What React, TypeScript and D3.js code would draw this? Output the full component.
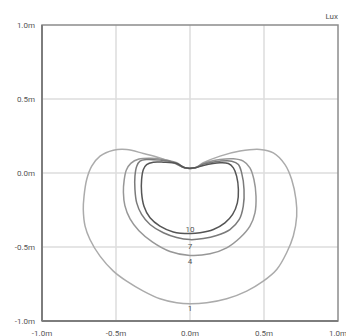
import React from "react";
import * as d3 from "d3";

type P = [number, number];

const xTicks = [-1, -0.5, 0, 0.5, 1];
const yTicks = [-1, -0.5, 0, 0.5, 1];
const tickLabel = (v: number) => `${v.toFixed(1)}m`;
const unitLabel = "Lux";

const levels = [1, 4, 7, 10];
const levelColors = ["#ababab", "#979797", "#7a7a7a", "#555555"];
const labelY = [-0.916, -0.598, -0.497, -0.382];

// contour 1 lux
const c1: P[] = [
  [-0.035, 0.035], [0.035, 0.035], [0.09, 0.069], [0.203, 0.114], [0.338, 0.148], [0.473, 0.159],
  [0.563, 0.136], [0.642, 0.057], [0.687, -0.044], [0.716, -0.179], [0.721, -0.292], [0.698, -0.426],
  [0.653, -0.539], [0.586, -0.652], [0.495, -0.731], [0.383, -0.798], [0.248, -0.85], [0.113, -0.877],
  [0, -0.884], [-0.09, -0.877], [-0.203, -0.85], [-0.315, -0.798], [-0.428, -0.731], [-0.518, -0.663],
  [-0.608, -0.562], [-0.676, -0.449], [-0.709, -0.359], [-0.721, -0.247], [-0.716, -0.157],
  [-0.698, -0.044], [-0.664, 0.046], [-0.608, 0.114], [-0.518, 0.154], [-0.428, 0.159],
  [-0.315, 0.132], [-0.203, 0.102], [-0.113, 0.069],
];
// contour 4 lux
const c4: P[] = [
  [-0.035, 0.035], [0.035, 0.035], [0.09, 0.064], [0.203, 0.091], [0.293, 0.096], [0.36, 0.08],
  [0.405, 0.035], [0.432, -0.044], [0.446, -0.157], [0.439, -0.269], [0.405, -0.359], [0.338, -0.438],
  [0.248, -0.506], [0.135, -0.546], [0, -0.557], [-0.135, -0.53], [-0.255, -0.465], [-0.345, -0.39],
  [-0.405, -0.31], [-0.44, -0.22], [-0.45, -0.13], [-0.445, -0.05], [-0.43, 0.02], [-0.4, 0.065],
  [-0.345, 0.094], [-0.27, 0.1], [-0.18, 0.091], [-0.09, 0.069],
];
// contour 7 lux
const c7: P[] = [
  [-0.035, 0.035], [0.035, 0.035], [0.09, 0.06], [0.203, 0.08], [0.282, 0.08], [0.327, 0.057],
  [0.349, 0.001], [0.365, -0.111], [0.36, -0.224], [0.333, -0.314], [0.27, -0.382], [0.18, -0.422],
  [0.09, -0.443], [0, -0.45], [-0.09, -0.436], [-0.18, -0.404], [-0.27, -0.348], [-0.327, -0.28],
  [-0.36, -0.202], [-0.372, -0.111], [-0.372, -0.021], [-0.36, 0.046], [-0.338, 0.08],
  [-0.293, 0.091], [-0.203, 0.087], [-0.113, 0.073],
];
// contour 10 lux
const c10: P[] = [
  [-0.035, 0.035], [0.035, 0.035], [0.09, 0.051], [0.203, 0.069], [0.259, 0.064], [0.293, 0.035],
  [0.315, -0.021], [0.327, -0.111], [0.32, -0.202], [0.288, -0.28], [0.236, -0.337], [0.158, -0.382],
  [0.068, -0.404], [0, -0.409], [-0.113, -0.398], [-0.203, -0.359], [-0.27, -0.303], [-0.311, -0.224],
  [-0.327, -0.134], [-0.327, -0.044], [-0.315, 0.024], [-0.293, 0.057], [-0.248, 0.073],
  [-0.18, 0.073], [-0.09, 0.064],
];
const contours = [c1, c4, c7, c10];

const W = 346;
const H = 336;
const plot = { left: 42, right: 338, top: 25, bottom: 321 };

export default function App() {
  const x = d3.scaleLinear().domain([-1, 1]).range([plot.left, plot.right]);
  const y = d3.scaleLinear().domain([-1, 1]).range([plot.bottom, plot.top]);
  const line = d3
    .line<P>()
    .x((d) => x(d[0]))
    .y((d) => y(d[1]))
    .curve(d3.curveCatmullRomClosed.alpha(0.5));
  const font = "Roboto, 'DejaVu Sans', sans-serif";
  return (
    <svg
      width={W}
      height={H}
      style={{ position: "absolute", left: 0, top: 0, background: "#fff" }}
      fontFamily={font}
    >
      {/* grid */}
      {xTicks.slice(1, -1).map((t) => (
        <line key={"gx" + t} x1={x(t)} x2={x(t)} y1={plot.top} y2={plot.bottom} stroke="#dcdcdc" strokeWidth={1.5} />
      ))}
      {yTicks.slice(1, -1).map((t) => (
        <line key={"gy" + t} y1={y(t)} y2={y(t)} x1={plot.left} x2={plot.right} stroke="#dcdcdc" strokeWidth={1.5} />
      ))}
      {/* frame */}
      <rect
        x={plot.left}
        y={plot.top}
        width={plot.right - plot.left}
        height={plot.bottom - plot.top}
        fill="none"
        stroke="#8c8c8c"
        strokeWidth={1.5}
      />
      <line x1={plot.left} x2={plot.left} y1={plot.top} y2={plot.bottom} stroke="#7d7d7d" strokeWidth={2} />
      <line x1={plot.left} x2={plot.right} y1={plot.bottom} y2={plot.bottom} stroke="#7d7d7d" strokeWidth={2} />
      {/* contours */}
      {contours.map((c, i) => (
        <path key={"c" + i} d={line(c) || ""} fill="none" stroke={levelColors[i]} strokeWidth={1.5} strokeLinejoin="round" />
      ))}
      {/* contour labels */}
      {levels.map((lv, i) => (
        <text
          key={"l" + lv}
          x={x(0)}
          y={y(labelY[i])}
          textAnchor="middle"
          dominantBaseline="central"
          fontSize={8}
          fill="#555"
        >
          {lv}
        </text>
      ))}
      {/* y tick labels */}
      {yTicks.map((t) => (
        <text key={"yt" + t} x={35} y={y(t)} textAnchor="end" dominantBaseline="central" fontSize={8} fill="#555">
          {tickLabel(t)}
        </text>
      ))}
      {/* x tick labels */}
      {xTicks.map((t) => (
        <text key={"xt" + t} x={x(t)} y={336} textAnchor="middle" fontSize={8} fill="#555">
          {tickLabel(t)}
        </text>
      ))}
      <text x={338} y={19} textAnchor="end" fontSize={8} fill="#555">
        {unitLabel}
      </text>
    </svg>
  );
}
